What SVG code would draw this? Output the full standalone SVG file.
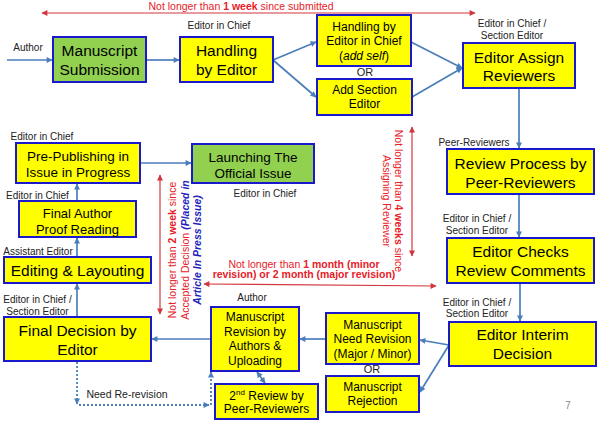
<svg xmlns="http://www.w3.org/2000/svg" width="599" height="423" viewBox="0 0 599 423">
<defs>
<style>
.box{stroke:#1A1ACC;stroke-width:2}
.y{fill:#FFFF00}
.g{fill:#92D050}
.t{font-family:"Liberation Sans",Arial,sans-serif;fill:#000;text-anchor:middle}
.big{font-size:15.5px}
.mid{font-size:13.5px}
.sm{font-size:12px}
.lb{font-family:"Liberation Sans",Arial,sans-serif;font-size:10px;fill:#222;text-anchor:middle}
.rt{font-family:"Liberation Sans",Arial,sans-serif;font-size:10.5px;fill:#E82028;text-anchor:middle}
.bl{fill:#2222BB;font-weight:bold;font-style:italic}
.c{fill:none;stroke:#4A7EBB;stroke-width:1.7}
.d{fill:none;stroke:#4A7EBB;stroke-width:1.8;stroke-dasharray:2 2}
.r{fill:none;stroke:#D2363C;stroke-width:1.2}
</style>
<marker id="ab" viewBox="0 0 10 10" refX="9" refY="5" markerUnits="userSpaceOnUse" markerWidth="7" markerHeight="6" orient="auto-start-reverse"><path d="M0,0 L10,5 L0,10 z" fill="#4A7EBB"/></marker>
<marker id="ar" viewBox="0 0 10 10" refX="9" refY="5" markerUnits="userSpaceOnUse" markerWidth="7" markerHeight="6" orient="auto-start-reverse"><path d="M0,0 L10,5 L0,10 z" fill="#D2363C"/></marker>
</defs>
<rect width="599" height="423" fill="#fff"/>

<g id="connectors">
<path class="c" d="M7,60 H52" marker-end="url(#ab)"/>
<path class="c" d="M147,60 H179" marker-end="url(#ab)"/>
<path class="c" d="M273,60 L316,42" marker-end="url(#ab)"/>
<path class="c" d="M273,60 L316,97" marker-end="url(#ab)"/>
<path class="c" d="M411,42 L462,68" marker-end="url(#ab)"/>
<path class="c" d="M412,97 L462,68" marker-end="url(#ab)"/>
<path class="c" d="M519,88 V148" marker-end="url(#ab)"/>
<path class="c" d="M519,194 V237" marker-end="url(#ab)"/>
<path class="c" d="M520,283 V321" marker-end="url(#ab)"/>
<path class="c" d="M449,345 L420,340" marker-end="url(#ab)"/>
<path class="c" d="M449,345 L420,392" marker-end="url(#ab)"/>
<path class="c" d="M326,339 H300" marker-end="url(#ab)"/>
<path class="c" d="M211,339 H152" marker-end="url(#ab)"/>
<path class="c" d="M77,317 V284" marker-end="url(#ab)"/>
<path class="c" d="M77,257 V238" marker-end="url(#ab)"/>
<path class="c" d="M77,201 V184" marker-end="url(#ab)"/>
<path class="c" d="M140,163 H191" marker-end="url(#ab)"/>
<path class="c" d="M257,372 L265,383" marker-start="url(#ab)" marker-end="url(#ab)"/>
<path class="d" d="M77,362 V404" marker-end="url(#ab)"/>
<path class="d" d="M79,405 H209" marker-end="url(#ab)"/>
<path class="d" d="M211,405 V372" marker-end="url(#ab)"/>
<path class="r" d="M42,13 H475" marker-start="url(#ar)" marker-end="url(#ar)"/>
<path class="r" d="M160,175 V314" marker-start="url(#ar)" marker-end="url(#ar)"/>
<path class="r" d="M412,127 V256" marker-start="url(#ar)" marker-end="url(#ar)"/>
<path class="r" d="M204,284 L436,286" marker-start="url(#ar)" marker-end="url(#ar)"/>
</g>

<g id="labels">
<text class="lb" x="28" y="50.5">Author</text>
<text class="lb" x="219" y="28.5">Editor in Chief</text>
<text class="lb" x="512" y="26.5">Editor in Chief /</text>
<text class="lb" x="512" y="38.5">Section Editor</text>
<text class="lb" x="365" y="75.5" style="font-size:11px">OR</text>
<text class="lb" x="474" y="145.5">Peer-Reviewers</text>
<text class="lb" x="477" y="221.5">Editor in Chief /</text>
<text class="lb" x="477" y="233.5">Section Editor</text>
<text class="lb" x="477" y="305.5">Editor in Chief /</text>
<text class="lb" x="477" y="317">Section Editor</text>
<text class="lb" x="372" y="373" style="font-size:11px">OR</text>
<text class="lb" x="252" y="300.5">Author</text>
<text class="lb" x="37.5" y="302.5">Editor in Chief /</text>
<text class="lb" x="37.5" y="314.5">Section Editor</text>
<text class="lb" x="127" y="397.5" style="font-size:10.5px">Need Re-revision</text>
<text class="lb" x="38" y="254.5">Assistant Editor</text>
<text class="lb" x="37.5" y="198.5">Editor in Chief</text>
<text class="lb" x="42" y="139.5">Editor in Chief</text>
<text class="lb" x="265" y="196.5">Editor in Chief</text>
<text class="lb" x="568" y="409" style="fill:#888">7</text>
</g>

<g id="notes">
<text class="rt" x="241" y="10">Not longer than <tspan font-weight="bold">1 week</tspan> since submitted</text>
<text class="rt" x="304" y="267.5">Not longer than <tspan font-weight="bold">1 month (minor</tspan></text>
<text class="rt" x="304" y="278" font-weight="bold">revision) or 2 month (major revision)</text>
<g transform="translate(176,250) rotate(-90)">
<text class="rt" x="0" y="0">Not longer than <tspan font-weight="bold">2 week</tspan> since</text>
<text class="rt" x="0" y="12.5">Accepted Decision <tspan class="bl">(Placed in</tspan></text>
<text class="rt" x="0" y="25"><tspan class="bl">Article In Press Issue)</tspan></text>
</g>
<g transform="translate(395,201) rotate(90)">
<text class="rt" x="0" y="0">Not longer than <tspan font-weight="bold">4 weeks</tspan> since</text>
<text class="rt" x="0" y="12.5">Assigning Reviewer</text>
</g>
</g>

<g id="manuscript-submission">
<rect class="box g" x="53" y="37" width="93" height="45"/>
<text class="t big" x="99.5" y="55.6">Manuscript</text>
<text class="t big" x="99.5" y="74.6">Submission</text>
</g>
<g id="handling-by-editor">
<rect class="box y" x="180" y="37" width="93" height="45"/>
<text class="t big" x="226.5" y="55.6">Handling</text>
<text class="t big" x="226.5" y="74.6">by Editor</text>
</g>
<g id="handling-eic">
<rect class="box y" x="317" y="15" width="94" height="51"/>
<text class="t sm" x="364" y="30.5">Handling by</text>
<text class="t sm" x="364" y="45">Editor in Chief</text>
<text class="t sm" x="364" y="59.5">(<tspan font-style="italic">add self</tspan>)</text>
</g>
<g id="add-section-editor">
<rect class="box y" x="317" y="79" width="95" height="36"/>
<text class="t sm" x="364.5" y="94.3">Add Section</text>
<text class="t sm" x="364.5" y="108.3">Editor</text>
</g>
<g id="editor-assign-reviewers">
<rect class="box y" x="463" y="43" width="112" height="45"/>
<text class="t big" x="519" y="62.6">Editor Assign</text>
<text class="t big" x="519" y="80.6">Reviewers</text>
</g>
<g id="review-process">
<rect class="box y" x="447" y="149" width="147" height="45"/>
<text class="t big" x="520.5" y="168.6">Review Process by</text>
<text class="t big" x="520.5" y="187.6">Peer-Reviewers</text>
</g>
<g id="editor-checks">
<rect class="box y" x="447" y="238" width="147" height="45"/>
<text class="t big" x="520.5" y="256.6">Editor Checks</text>
<text class="t big" x="520.5" y="275.6">Review Comments</text>
</g>
<g id="editor-interim-decision">
<rect class="box y" x="449" y="322" width="147" height="44"/>
<text class="t big" x="522.5" y="339.6">Editor Interim</text>
<text class="t big" x="522.5" y="358.6">Decision</text>
</g>
<g id="need-revision">
<rect class="box y" x="326" y="313" width="93" height="51"/>
<text class="t sm" x="372.5" y="328.5">Manuscript</text>
<text class="t sm" x="372.5" y="343">Need Revision</text>
<text class="t sm" x="372.5" y="357.5">(Major / Minor)</text>
</g>
<g id="rejection">
<rect class="box y" x="326" y="376" width="93" height="36"/>
<text class="t sm" x="372.5" y="391.3">Manuscript</text>
<text class="t sm" x="372.5" y="405.3">Rejection</text>
</g>
<g id="manuscript-revision">
<rect class="box y" x="211" y="307" width="88" height="64"/>
<text class="t sm" x="255" y="321.3">Manuscript</text>
<text class="t sm" x="255" y="336">Revision by</text>
<text class="t sm" x="255" y="350.3">Authors &amp;</text>
<text class="t sm" x="255" y="364.5">Uploading</text>
</g>
<g id="second-review">
<rect class="box y" x="215" y="384" width="103" height="35"/>
<text class="t sm" x="266.5" y="399.5">2<tspan font-size="8" dy="-4.5">nd</tspan><tspan dy="4.5"> Review by</tspan></text>
<text class="t sm" x="266.5" y="413">Peer-Reviewers</text>
</g>
<g id="final-decision">
<rect class="box y" x="4" y="317" width="147" height="44"/>
<text class="t big" x="77.5" y="335.6">Final Decision by</text>
<text class="t big" x="77.5" y="354.6">Editor</text>
</g>
<g id="editing-layouting">
<rect class="box y" x="4" y="257" width="147" height="26"/>
<text class="t big" x="77.5" y="275.6">Editing &amp; Layouting</text>
</g>
<g id="final-author-proof">
<rect class="box y" x="19" y="201" width="117" height="36"/>
<text class="t" style="font-size:13px" x="77.5" y="217.7">Final Author</text>
<text class="t" style="font-size:13px" x="77.5" y="233.7">Proof Reading</text>
</g>
<g id="pre-publishing">
<rect class="box y" x="16" y="143" width="124" height="40"/>
<text class="t mid" x="78" y="160.8">Pre-Publishing in</text>
<text class="t mid" x="78" y="176.8">Issue in Progress</text>
</g>
<g id="launching">
<rect class="box g" x="192" y="144" width="122" height="39"/>
<text class="t mid" x="253" y="161.9">Launching The</text>
<text class="t mid" x="253" y="177.9">Official Issue</text>
</g>
</svg>
